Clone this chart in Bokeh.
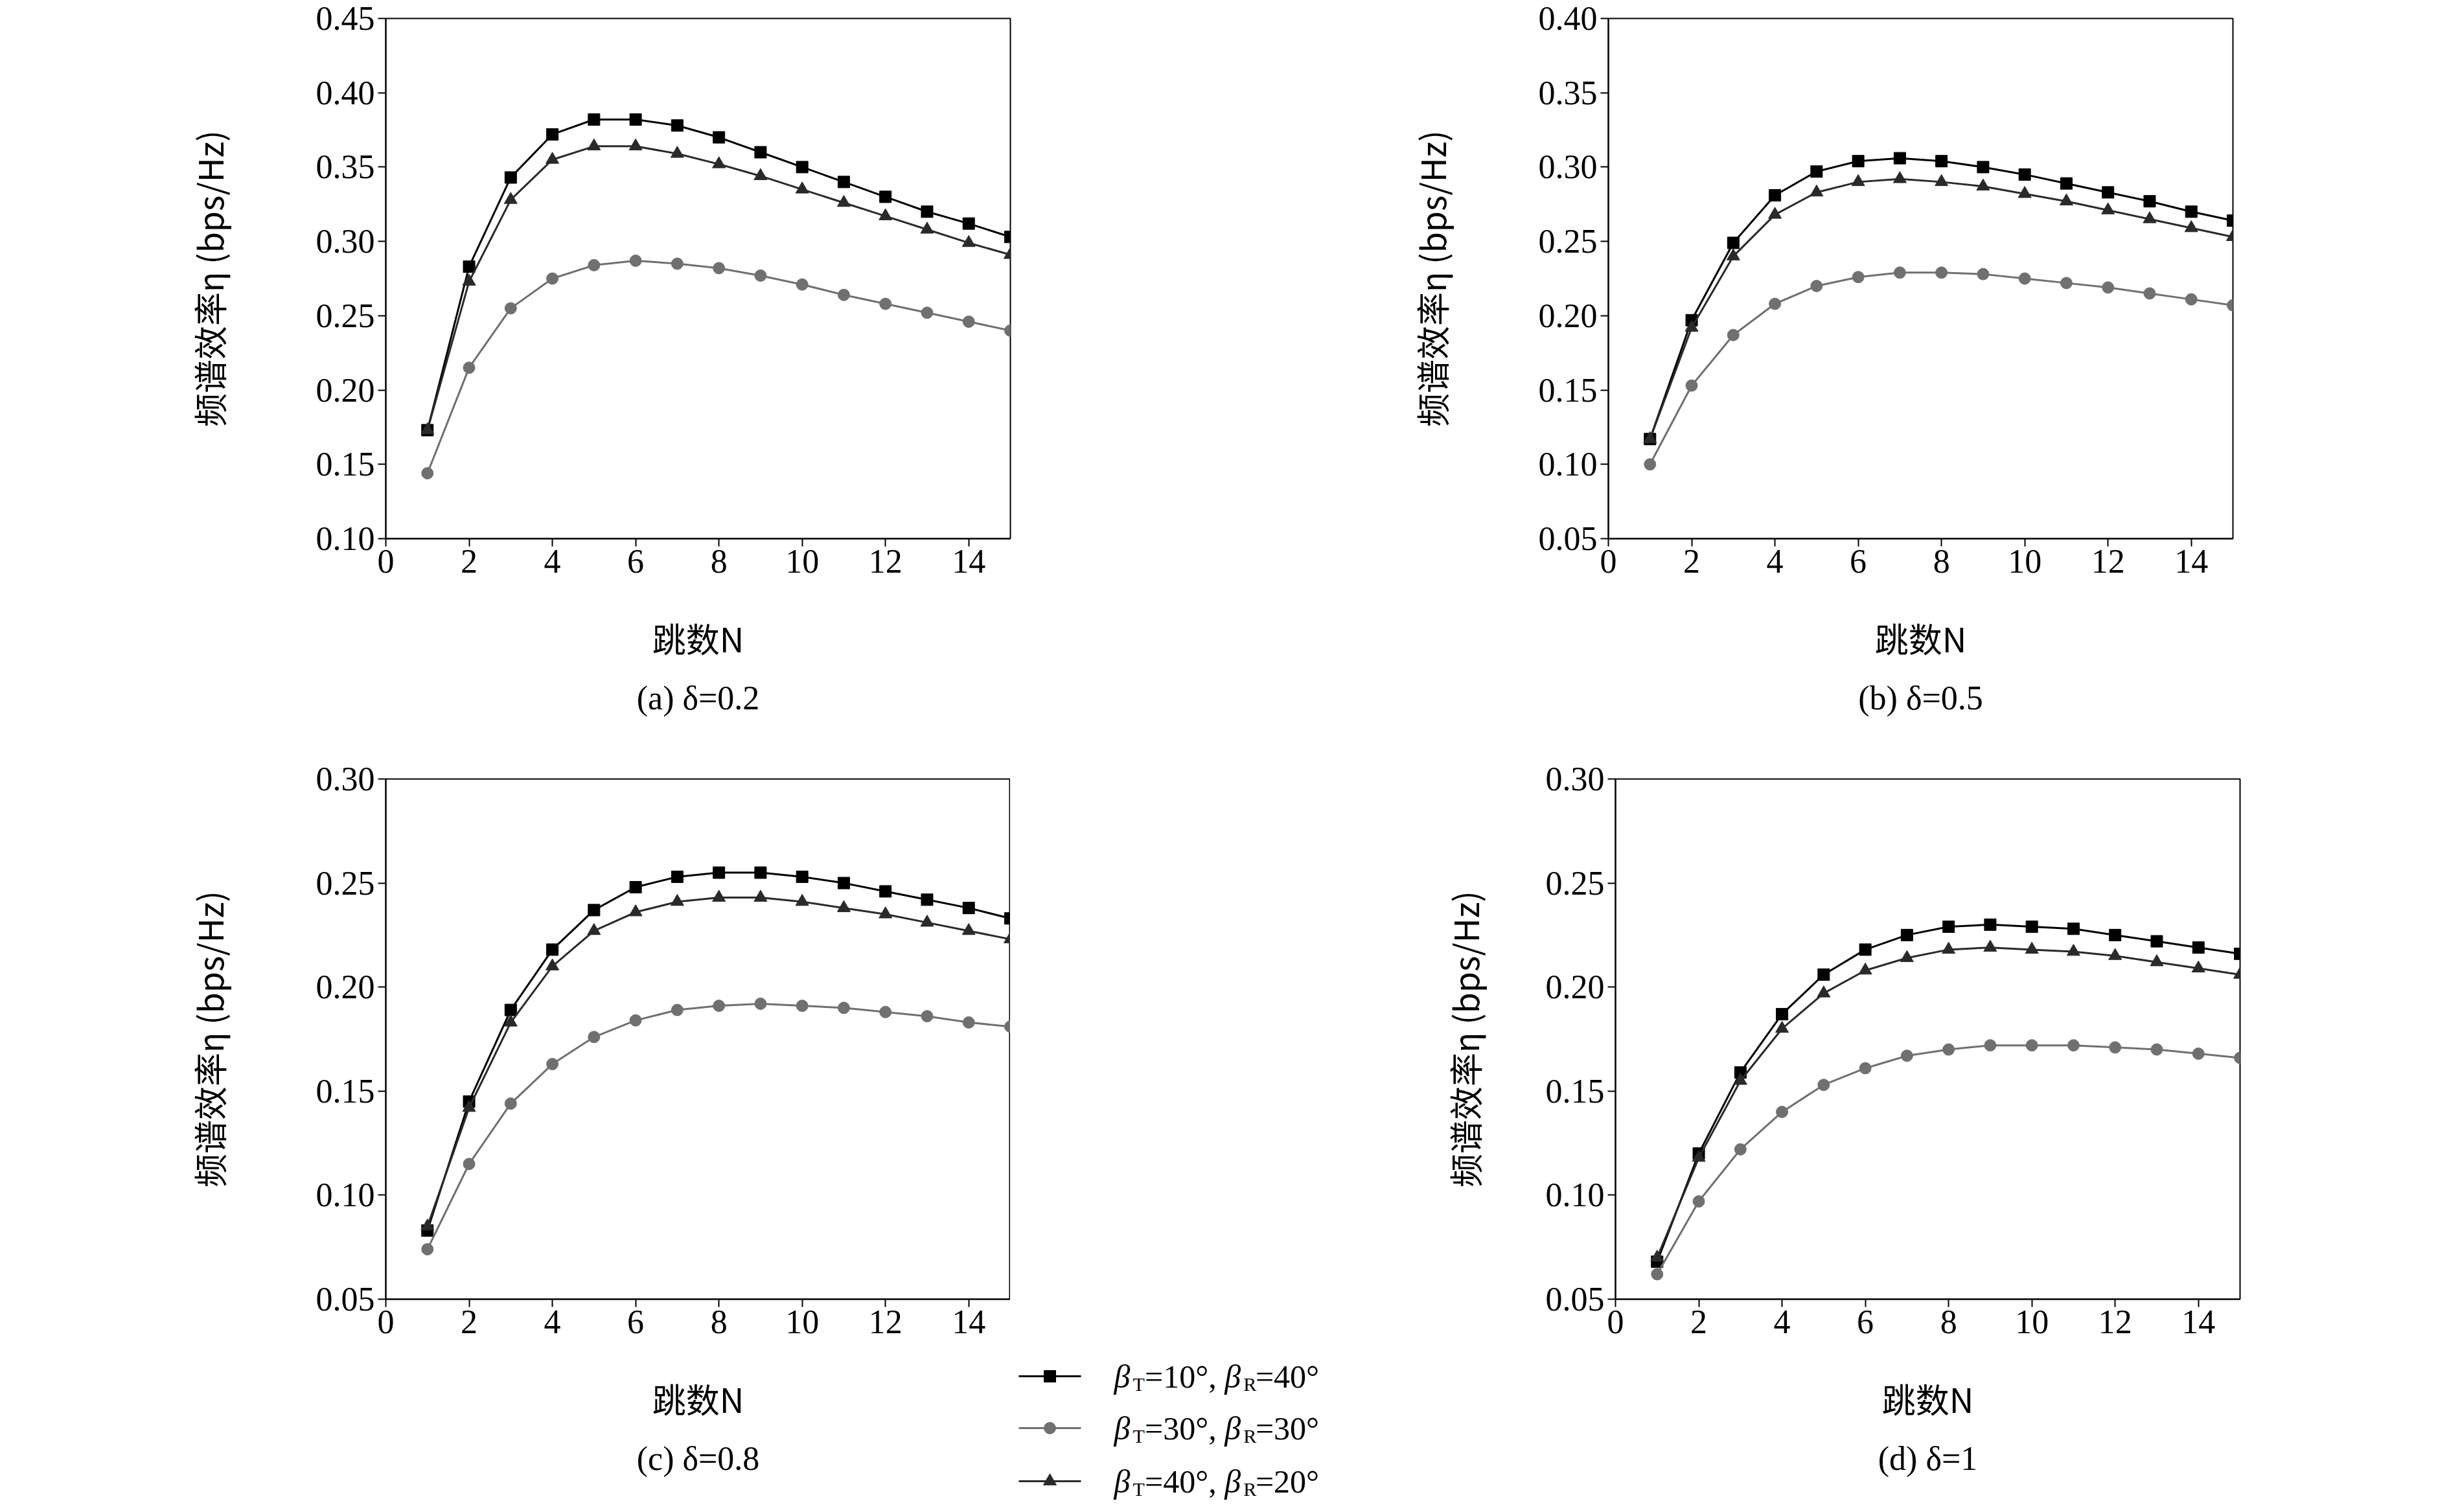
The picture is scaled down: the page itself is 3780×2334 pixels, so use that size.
from bokeh.plotting import figure
from bokeh.layouts import row, column
from bokeh.models import Title, FixedTicker, NumeralTickFormatter, Range1d
from bokeh.embed import file_html
from bokeh.resources import INLINE

N = list(range(1, 16))
series_names = ["βT=10°, βR=40°", "βT=30°, βR=30°", "βT=40°, βR=20°"]
captions = ["(a) δ=0.2", "(b) δ=0.5", "(c) δ=0.8", "(d) δ=1"]
ylims = [(0.10, 0.45), (0.05, 0.40), (0.05, 0.30), (0.05, 0.30)]

a_s1 = [.173, .283, .343, .372, .382, .382, .378, .370, .360, .350, .340, .330, .320, .312, .303]
a_s2 = [.144, .215, .255, .275, .284, .287, .285, .282, .277, .271, .264, .258, .252, .246, .240]
a_s3 = [.173, .273, .328, .355, .364, .364, .359, .352, .344, .335, .326, .317, .308, .299, .291]
b_s1 = [.117, .197, .249, .281, .297, .304, .306, .304, .300, .295, .289, .283, .277, .270, .264]
b_s2 = [.100, .153, .187, .208, .220, .226, .229, .229, .228, .225, .222, .219, .215, .211, .207]
b_s3 = [.117, .192, .240, .268, .283, .290, .292, .290, .287, .282, .277, .271, .265, .259, .253]
c_s1 = [.083, .145, .189, .218, .237, .248, .253, .255, .255, .253, .250, .246, .242, .238, .233]
c_s2 = [.074, .115, .144, .163, .176, .184, .189, .191, .192, .191, .190, .188, .186, .183, .181]
c_s3 = [.085, .142, .183, .210, .227, .236, .241, .243, .243, .241, .238, .235, .231, .227, .223]
d_s1 = [.068, .120, .159, .187, .206, .218, .225, .229, .230, .229, .228, .225, .222, .219, .216]
d_s2 = [.062, .097, .122, .140, .153, .161, .167, .170, .172, .172, .172, .171, .170, .168, .166]
d_s3 = [.070, .118, .155, .180, .197, .208, .214, .218, .219, .218, .217, .215, .212, .209, .206]

panels = [(a_s1, a_s2, a_s3), (b_s1, b_s2, b_s3), (c_s1, c_s2, c_s3), (d_s1, d_s2, d_s3)]
colors = ["#000000", "#707070", "#2a2a2a"]
markers = ["square", "circle", "triangle"]
msizes = [18, 18, 20]
TICKF = "Liberation Serif"
CJK = "Noto Sans CJK SC"

def make_panel(i, left, right, standoff):
    lo, hi = ylims[i]
    p = figure(frame_width=964, frame_height=803, output_backend="svg", toolbar_location=None,
               x_range=Range1d(0, 15), y_range=Range1d(lo, hi),
               min_border_left=left, min_border_right=right, min_border_top=28, min_border_bottom=320)
    for s, c, m, ms in zip(panels[i], colors, markers, msizes):
        p.line(N, s, line_color=c, line_width=3)
        p.scatter(N, s, marker=m, size=ms, fill_color=c, line_color=c)
    p.xgrid.visible = False
    p.ygrid.visible = False
    p.outline_line_color = "black"
    p.outline_line_width = 2
    p.xaxis.ticker = FixedTicker(ticks=list(range(0, 15, 2)))
    yt = [round(lo + 0.05 * k, 2) for k in range(int(round((hi - lo) / 0.05)) + 1)]
    p.yaxis.ticker = FixedTicker(ticks=yt)
    p.yaxis.formatter = NumeralTickFormatter(format="0.00")
    for ax in (p.xaxis[0], p.yaxis[0]):
        ax.major_label_text_font = TICKF
        ax.major_label_text_font_size = "52px"
        ax.major_label_text_color = "black"
        ax.axis_label_text_font = CJK
        ax.axis_label_text_font_size = "52px"
        ax.axis_label_text_font_style = "normal"
        ax.axis_label_text_color = "black"
        ax.minor_tick_line_color = None
        ax.major_tick_in = 0
        ax.major_tick_out = 12
        ax.major_tick_line_width = 2
        ax.axis_line_width = 2
    p.xaxis.axis_label = "跳数N"
    p.xaxis.axis_label_standoff = 60
    p.yaxis.axis_label = "频谱效率η (bps/Hz)"
    p.yaxis.axis_label_standoff = standoff
    p.add_layout(Title(text=captions[i], align="center", text_font=TICKF, text_font_size="52px",
                       text_font_style="normal", text_color="black", standoff=45), "below")
    return p

pa = make_panel(0, 595, 328, 125)
pb = make_panel(1, 595, 40, 125)
pc = make_panel(2, 595, 0, 125)
pd = make_panel(3, 263, 40, 85)
pb.min_border_bottom = 343
pa.min_border_bottom = 343

# legend panel
LW, LH = 660, 1151
lg = figure(frame_width=LW, frame_height=LH, output_backend="svg", toolbar_location=None,
            x_range=Range1d(0, LW), y_range=Range1d(0, LH), min_border=0)
lg.axis.visible = False
lg.grid.visible = False
lg.outline_line_color = None
rows_y = [LH - 922, LH - 1002, LH - 1084]
em = 50
wid = {"=": 0.564, "°": 0.4, ",": 0.25, " ": 0.25}
def w(s):
    return sum(wid.get(ch, 0.5) for ch in s) * em
legend_parts = [("10", "40"), ("30", "30"), ("40", "20")]
for (t, r), y, c, m, ms in zip(legend_parts, rows_y, colors, markers, msizes):
    lg.line([13, 109], [y, y], line_color=c, line_width=3)
    lg.scatter([61], [y], marker=m, size=ms, fill_color=c, line_color=c)
    x = 160
    pieces = [("β", "italic", 50, 0), ("T", "normal", 30, -12), ("=" + t + "°, ", "normal", 50, 0),
              ("β", "italic", 50, 0), ("R", "normal", 30, -12), ("=" + r + "°", "normal", 50, 0)]
    for txt, st, fs, dy in pieces:
        lg.text([x], [y + dy], text=[txt], text_font="Liberation Serif",
                text_font_size=f"{fs}px", text_font_style=st, text_baseline="middle",
                text_align="left", text_color="black")
        x += (w(txt) if fs == 50 else 0.62 * fs) + (4 if txt == "β" else 0)

layout = column(row(pa, pb), row(pc, lg, pd))
open("out.html", "w").write(file_html(layout, INLINE))
